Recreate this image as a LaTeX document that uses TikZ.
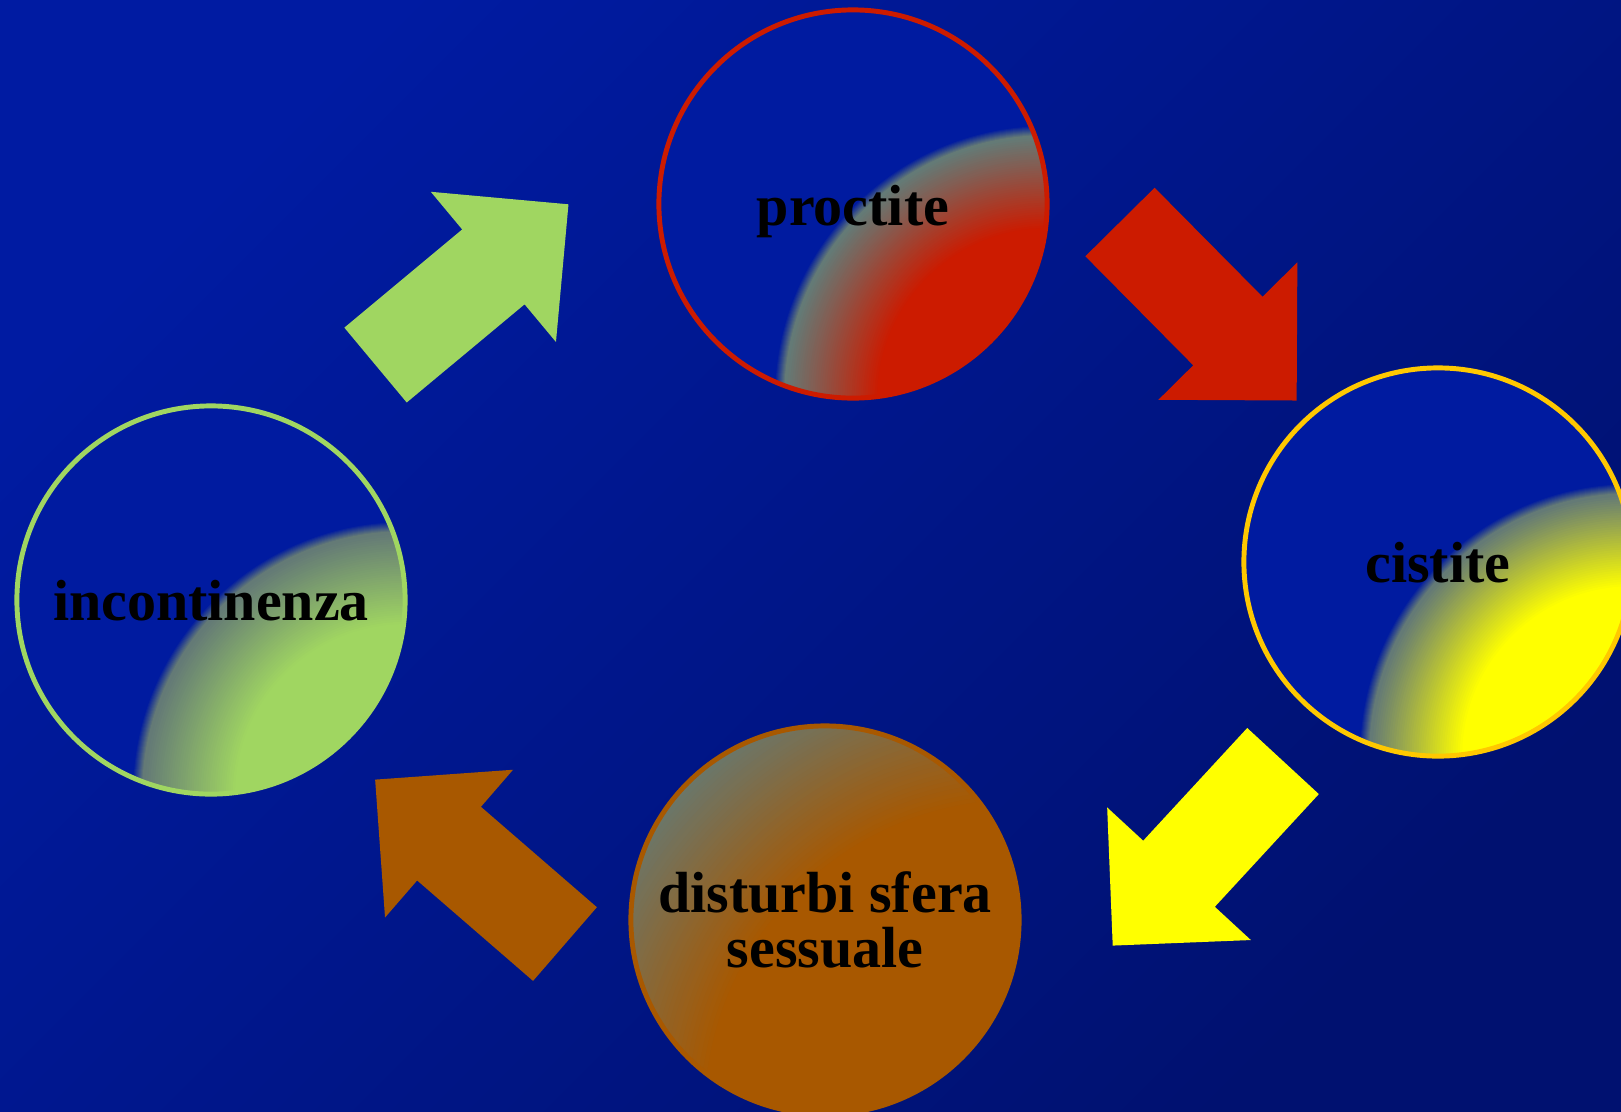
\documentclass[tikz,border=0pt]{standalone}
\usepackage{fontspec}
\setmainfont{Liberation Serif}
\usetikzlibrary{shapes.arrows}

\definecolor{bgtop}{RGB}{0,27,162}
\definecolor{bgbot}{RGB}{0,17,112}
\definecolor{bubbleblue}{RGB}{0,27,160}
\definecolor{bandgrey}{RGB}{100,122,118}
\definecolor{leafgreen}{RGB}{160,214,97}
\definecolor{fire}{RGB}{204,27,0}
\definecolor{lemon}{RGB}{255,255,0}
\definecolor{gold}{RGB}{255,200,0}
\definecolor{rust}{RGB}{168,88,0}

\tikzset{
  bubble/.style n args={3}{circle, draw=#1, line width=1.4pt, fill=bubbleblue,
    minimum size=38.8mm, inner sep=0pt, align=center,
    font=\fontsize{16.5}{15.6}\selectfont\bfseries,
    path picture={
      \foreach \k [evaluate=\k as \rr using #3*(273-\k), evaluate=\k as \pc using 10*\k] in {0,...,10}
        \fill[bandgrey!\pc!bubbleblue] (path picture bounding box.south east) circle [radius=\rr];
      \foreach \k [evaluate=\k as \rr using #3*(262-2.3*\k), evaluate=\k as \pc using 2.5*\k] in {0,...,40}
        \fill[#2!\pc!bandgrey] (path picture bounding box.south east) circle [radius=\rr];}},
  oneline/.style={text height=#1, text depth=0pt},
  fatarrow/.style={single arrow, fill=#1, draw=none, inner xsep=0pt, inner ysep=4.8mm,
    minimum height=25.1mm, single arrow head extend=4.9mm, single arrow tip angle=90,
    anchor=tail}
}

\begin{document}
\begin{tikzpicture}[x=0.01cm, y=-0.01cm]
\useasboundingbox (0,0) rectangle (1621,1111);
\clip (0,0) rectangle (1621,1111);
\shade[top color=bgtop, bottom color=bgbot, shading angle=45] (0,0) rectangle (1621,1111);

\node[bubble={fire}{fire}{1}, oneline=12.5pt] (proctite) at (853,204) {proctite};
\node[bubble={gold}{lemon}{1}, oneline=11.6pt] (cistite) at (1438,562) {cistite};
\node[bubble={rust}{rust}{1.85}] (disturbi) at (825,920) {disturbi sfera\\sessuale};
\node[bubble={leafgreen}{leafgreen}{1}, oneline=11.6pt] (incontinenza) at (211,600) {incontinenza};

\node[fatarrow=leafgreen, rotate=39.8] (upleft) at (375,365.5) {};
\node[fatarrow=fire, rotate=-45.3] (upright) at (1119.5,221.5) {};
\node[fatarrow=lemon, rotate=-132.7] (downright) at (1283.5,760.5) {};
\node[fatarrow=rust, rotate=139.1] (downleft) at (565.5,944.5) {};
\end{tikzpicture}
\end{document}
